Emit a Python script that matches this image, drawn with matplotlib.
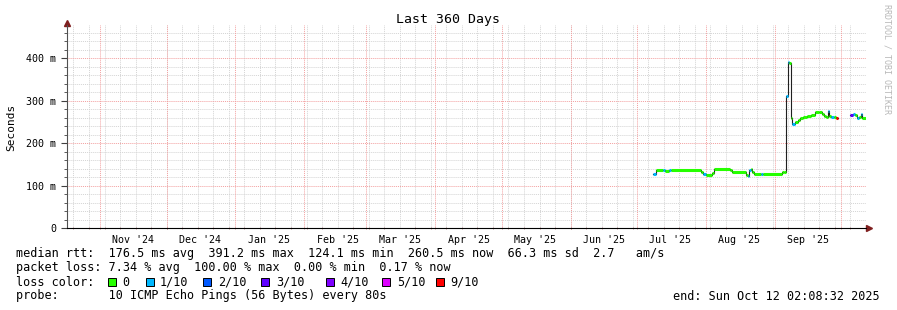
import matplotlib
matplotlib.use('Agg')
import matplotlib.pyplot as plt
import numpy as np
import pandas as pd
from matplotlib.patches import Rectangle

plt.rcParams['font.family'] = 'DejaVu Sans Mono'

# Zeitraum
start = pd.Timestamp('2024-10-17 02:08:32')
end = pd.Timestamp('2025-10-12 02:08:32')

# median rtt (ms), each value holds until the next start time
seg_start = ['2025-07-08 05:00', '2025-07-09 13:00', '2025-07-12 17:00', '2025-07-13 14:00',
             '2025-07-15 10:00', '2025-07-16 07:00', '2025-07-29 19:00', '2025-07-30 17:00',
             '2025-08-01 02:00', '2025-08-03 19:00', '2025-08-04 17:00', '2025-08-11 22:00',
             '2025-08-12 19:00', '2025-08-19 02:00', '2025-08-19 19:00', '2025-08-20 12:00',
             '2025-08-21 02:00', '2025-08-21 19:00', '2025-08-22 17:00', '2025-08-25 22:00',
             '2025-08-26 19:00', '2025-09-04 07:00', '2025-09-05 00:00', '2025-09-05 22:00',
             '2025-09-06 19:00', '2025-09-07 12:00', '2025-09-08 05:00', '2025-09-08 22:00',
             '2025-09-10 05:00', '2025-09-11 14:00', '2025-09-12 12:00', '2025-09-13 19:00',
             '2025-09-15 14:00', '2025-09-17 10:00', '2025-09-19 05:00', '2025-09-21 00:00',
             '2025-09-22 10:00', '2025-09-23 07:00', '2025-09-24 05:00', '2025-09-24 19:00',
             '2025-09-25 12:00', '2025-09-26 10:00', '2025-09-27 19:00', '2025-09-28 17:00',
             '2025-09-29 10:00', '2025-10-05 00:00', '2025-10-06 10:00', '2025-10-07 07:00',
             '2025-10-08 02:00', '2025-10-09 00:00', '2025-10-09 17:00', '2025-10-10 10:00']
median_ms = [126, 136, 136, 134, 136, 136, 132, 126,
             125, 130, 139, 136, 131, 125, 122, 137,
             140, 131, 127, 127, 127, 131, 133, 310,
             391, 389, 258, 246, 250, 254, 259, 262,
             264, 267, 272, 273, 268, 264, 262, 275,
             264, 262, 261, 259, np.nan, 266, 268, 267,
             260, 262, 268, 260]
loss_idx = [1, 0, 1, 0, 1, 0, 0, 1,
            0, 0, 0, 0, 0, 0, 1, 1,
            0, 0, 0, 1, 0, 0, 0, 1,
            1, 0, 0, 1, 0, 0, 0, 0,
            0, 0, 0, 0, 0, 0, 0, 1,
            0, 1, 0, 6, 0, 3, 1, 0,
            1, 0, 1, 0]

loss_labels = ['0', '1/10', '2/10', '3/10', '4/10', '5/10', '9/10']
loss_colors = ['#26ff00', '#00b8ff', '#0059ff', '#5e00ff', '#7e00ff', '#dd00ff', '#ff0000']

y_ticks = [0, 100, 200, 300, 400]
y_labels = ['0', '100 m', '200 m', '300 m', '400 m']

W, H = 897, 310
fig = plt.figure(figsize=(W / 100, H / 100), dpi=100)
ax = fig.add_axes([67 / W, 1 - 228 / H, 799 / W, 203 / H])

# Gitter
weeks = pd.date_range('2024-10-20', end, freq='7D')
months = pd.date_range('2024-11-01', end, freq='MS')
for w in weeks:
    ax.axvline(w, color='#d4d4d4', lw=0.7, ls=(0, (1, 1)), zorder=1)
for y in range(20, 480, 20):
    if y % 100:
        ax.axhline(y, color='#d4d4d4', lw=0.7, ls=(0, (1, 1)), zorder=1)
for m in months:
    ax.axvline(m, color='#f3a0a0', lw=0.7, ls=(0, (1, 1)), zorder=2)
for y in y_ticks[1:]:
    ax.axhline(y, color='#f3a0a0', lw=0.7, ls=(0, (1, 1)), zorder=2)

# Median
t = list(pd.to_datetime(seg_start)) + [end]
vals = median_ms + [median_ms[-1]]
ax.step(t, vals, where='post', color='#202020', lw=0.8, zorder=3)
for i in range(len(median_ms)):
    if np.isnan(median_ms[i]):
        continue
    ax.hlines(median_ms[i], t[i], t[i + 1], color=loss_colors[loss_idx[i]], lw=2.2, zorder=4)

ax.set_xlim(start, end)
ax.set_ylim(0, 478)

mid = pd.date_range('2024-10-01', end, freq='MS') + pd.Timedelta(days=15)
mid = [d for d in mid if start < d < end]
ax.set_xticks(mid)
ax.set_xticklabels([d.strftime("%b '%y") for d in mid])
ax.set_xticks(list(weeks) + list(months), minor=True)
ax.set_yticks(y_ticks)
ax.set_yticklabels(y_labels)
ax.set_yticks(range(0, 478, 20), minor=True)
ax.tick_params(axis='x', which='major', length=0, pad=5, labelsize=7.2)
ax.tick_params(axis='x', which='minor', length=2, direction='inout', color='#c08080')
ax.tick_params(axis='y', which='major', length=4, width=0.8, color='#404040', pad=4, labelsize=7.2)
ax.tick_params(axis='y', which='minor', length=2, width=0.6, color='#404040')

for s in ['top', 'right']:
    ax.spines[s].set_visible(False)
ax.spines['left'].set_color('#505050')
ax.spines['bottom'].set_color('#000000')
ax.spines['left'].set_linewidth(0.8)
ax.spines['bottom'].set_linewidth(0.8)
ax.plot([0], [1.012], marker='^', color='#7f1f1f', ms=4, transform=ax.transAxes, clip_on=False)
ax.plot([1.004], [0], marker='>', color='#7f1f1f', ms=4, transform=ax.transAxes, clip_on=False)

fig.text(448 / W, 1 - 19 / H, 'Last 360 Days', ha='center', va='center', fontsize=9.5)
fig.text(11 / W, 1 - 127 / H, 'Seconds', rotation=90, ha='center', va='center', fontsize=8)
fig.text(887 / W, 1 - 4 / H, 'RRDTOOL / TOBI OETIKER', rotation=-90, ha='center', va='top',
         fontsize=6, color='#b8b8b8')

# Legende
fs = 8.5
fig.text(16 / W, 1 - 254 / H,
         'median rtt:  176.5 ms avg  391.2 ms max  124.1 ms min  260.5 ms now  66.3 ms sd  2.7   am/s',
         va='center', fontsize=fs)
fig.text(16 / W, 1 - 268 / H,
         'packet loss: 7.34 % avg  100.00 % max  0.00 % min  0.17 % now',
         va='center', fontsize=fs)
fig.text(16 / W, 1 - 282 / H, 'loss color:', va='center', fontsize=fs)
box_x = [108, 146, 203, 261, 326, 382, 436]
lab_x = [122.7, 160, 217.7, 276, 340, 396.7, 450]
for bx, lx, c, lab in zip(box_x, lab_x, loss_colors, loss_labels):
    fig.patches.append(Rectangle((bx / W, 1 - 286 / H), 8 / W, 8 / H, facecolor=c,
                                 edgecolor='black', lw=0.7, transform=fig.transFigure))
    fig.text(lx / W, 1 - 282 / H, lab, va='center', fontsize=fs)
fig.text(16 / W, 1 - 296 / H, 'probe:       10 ICMP Echo Pings (56 Bytes) every 80s',
         va='center', fontsize=fs)
fig.text(880 / W, 1 - 296 / H, 'end: Sun Oct 12 02:08:32 2025', ha='right', va='center', fontsize=fs)

fig.savefig('out.png', dpi=100, facecolor='white')
